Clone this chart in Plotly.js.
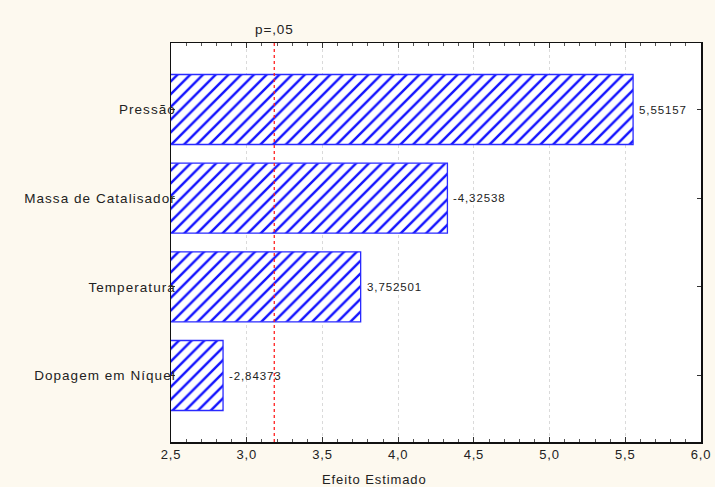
<!DOCTYPE html>
<html>
<head>
<meta charset="utf-8">
<script src="https://cdn.plot.ly/plotly-3.0.1.min.js"></script>
<style>
  html, body { margin: 0; padding: 0; background: #fdf9ef; }
  #chart { width: 715px; height: 487px; }
  .ytick text { letter-spacing: 1.05px; }
  .xtick text { letter-spacing: 0.8px; }
  .annotation-text { letter-spacing: 0.9px; }
</style>
</head>
<body>
<div id="chart"></div>
<script>
// Pareto chart of standardized effects
const factors = ['Pressão', 'Massa de Catalisador', 'Temperatura', 'Dopagem em Níquel'];
const effects = [5.55157, -4.32538, 3.752501, -2.84373];
const pCritical = 3.182;           // t value for p = .05
const xTickVals = [2.5, 3.0, 3.5, 4.0, 4.5, 5.0, 5.5, 6.0];
const xTickText = ['2,5', '3,0', '3,5', '4,0', '4,5', '5,0', '5,5', '6,0'];

const magnitudes = effects.map(v => Math.abs(v));
const labels = effects.map(v => String(v).replace('.', ','));

const trace = {
  type: 'bar',
  orientation: 'h',
  y: factors,
  x: magnitudes,
  base: 0,
  width: 0.79,
  hoverinfo: 'skip',
  marker: {
    color: '#ffffff',
    line: { color: '#2a2aff', width: 1.3 },
    pattern: { shape: '/', fgcolor: '#1414ff', fgopacity: 1, bgcolor: '#ffffff', size: 9, solidity: 0.27, fillmode: 'overlay' }
  }
};

// effect value printed just right of each bar end
const valueNotes = factors.map((f, i) => ({
  text: labels[i], xref: 'x', yref: 'y', x: magnitudes[i], y: f,
  xshift: 4, showarrow: false, xanchor: 'left', yanchor: 'middle',
  font: { size: 11.5, color: '#222' }
}));

const layout = {
  width: 715,
  height: 487,
  paper_bgcolor: '#fdf9ef',
  plot_bgcolor: '#ffffff',
  margin: { l: 171, r: 14, t: 43, b: 45 },
  showlegend: false,
  font: { family: 'Liberation Sans, Arial, sans-serif', color: '#222' },
  xaxis: {
    range: [2.5, 6.0],
    tickvals: xTickVals,
    ticktext: xTickText,
    ticks: 'inside',
    ticklen: 5,
    tickcolor: '#333',
    tickfont: { size: 13, color: '#222' },
    showline: true,
    linecolor: '#111',
    linewidth: 1.5,
    mirror: 'ticks',
    showgrid: true,
    gridcolor: '#dadada',
    griddash: 'dot',
    gridwidth: 1,
    zeroline: false,
    minor: { dtick: 0.1, ticks: 'inside', ticklen: 3, tickcolor: '#555', showgrid: false }
  },
  yaxis: {
    type: 'category',
    range: [3.75, -0.75],
    ticks: 'inside',
    ticklen: 4,
    tickcolor: '#333',
    ticklabelstandoff: -9,
    tickfont: { size: 13.5, color: '#222' },
    showline: true,
    linecolor: '#111',
    linewidth: 1.5,
    mirror: 'ticks',
    showgrid: false,
    zeroline: false
  },
  shapes: [{
    type: 'line',
    xref: 'x', yref: 'paper',
    x0: pCritical, x1: pCritical, y0: 0, y1: 1,
    line: { color: '#ff2020', width: 1.3, dash: 'dot' }
  }],
  annotations: [
    {
      text: 'p=,05', xref: 'x', yref: 'paper', x: pCritical, y: 1,
      yshift: 14, showarrow: false, xanchor: 'center', yanchor: 'middle',
      font: { size: 13.5, color: '#222' }
    },
    {
      text: 'Efeito Estimado', xref: 'paper', yref: 'paper',
      x: (374 - 171) / (715 - 171 - 14), y: 0, yshift: -37,
      showarrow: false, xanchor: 'center', yanchor: 'middle',
      font: { size: 13, color: '#222' }
    }
  ].concat(valueNotes)
};

Plotly.newPlot('chart', [trace], layout, { displayModeBar: false, staticPlot: true });
</script>
</body>
</html>
